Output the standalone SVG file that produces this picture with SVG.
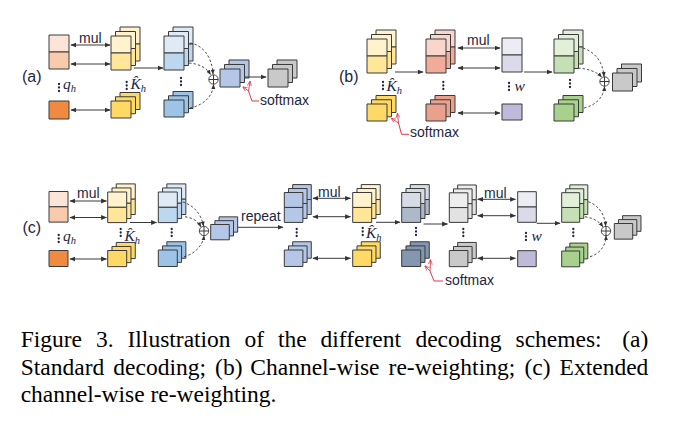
<svg xmlns="http://www.w3.org/2000/svg" xmlns:xlink="http://www.w3.org/1999/xlink" width="674" height="440" viewBox="0 0 674 440">
<style>
.bx{stroke:#3a3a3a;stroke-width:1;vector-effect:non-scaling-stroke}
.ln{stroke:#3a3a3a;stroke-width:1;fill:none}
.ar{marker-end:url(#ah)}
.bi{marker-start:url(#ah);marker-end:url(#ah)}
.ds{stroke:#3a3a3a;stroke-width:0.9;fill:none;stroke-dasharray:2.5 2;marker-end:url(#ahs)}
.rd{stroke:#e8344a;stroke-width:1;fill:none}
.rda{stroke:#e8344a;stroke-width:0.9;fill:none;marker-end:url(#ahr)}
.lb{font-family:"Liberation Sans","Open Sans",sans-serif;fill:#1e2740}
.mt{font-family:"Liberation Serif","DejaVu Serif",serif;font-style:italic;fill:#1e2740;font-size:15.5px}
.sub{font-size:10.5px}
.cap{font-family:"Liberation Serif","Times New Roman",serif;font-size:23.5px;fill:#000}
.pl{stroke:#3a3a3a;stroke-width:0.9;fill:#fff}
</style>
<defs>
<marker id="ah" viewBox="0 0 10 10" refX="9" refY="5" markerWidth="6" markerHeight="6" markerUnits="userSpaceOnUse" orient="auto-start-reverse"><path d="M0,1 L10,5 L0,9 z" fill="#333"/></marker>
<marker id="ahs" viewBox="0 0 10 10" refX="9" refY="5" markerWidth="5" markerHeight="5" markerUnits="userSpaceOnUse" orient="auto"><path d="M0,1 L10,5 L0,9 z" fill="#333"/></marker>
<marker id="ahr" viewBox="0 0 10 10" refX="9" refY="5" markerWidth="5" markerHeight="5" markerUnits="userSpaceOnUse" orient="auto"><path d="M0,1 L10,5 L0,9" fill="none" stroke="#e8344a" stroke-width="1.5"/></marker>
<g id="sb"><rect class="bx" width="20" height="17"/><rect class="bx" y="17" width="20" height="17" fill="currentColor"/></g>
<g id="ss"><use href="#sb" x="9" y="-9"/><use href="#sb" x="4.5" y="-4.5"/><use href="#sb"/></g>
<g id="ob"><rect class="bx" width="20" height="17"/></g>
<g id="os"><use href="#ob" x="9" y="-8.5"/><use href="#ob" x="4.5" y="-4.25"/><use href="#ob"/></g>
<g id="vd" fill="#1e2740"><circle cx="0" cy="0" r="1.15"/><circle cx="0" cy="3.5" r="1.15"/><circle cx="0" cy="7" r="1.15"/></g>
</defs>

<!-- ===== panel (a) ===== -->
<text class="lb" x="22" y="82" font-size="16">(a)</text>
<g id="a_q">
<use href="#sb" x="49" y="35" fill="#fce4d6" color="#f8cbad"/>
<rect class="bx" x="49" y="101" width="20" height="18" fill="#f08a40"/>
<use href="#vd" x="59" y="84"/>
<text class="mt" x="63" y="89">q<tspan class="sub" dy="3">h</tspan></text>
</g>
<g id="a_k">
<use href="#ss" x="111" y="36" fill="#fff2cc" color="#ffe699"/>
<use href="#os" x="111" y="101" fill="#ffd966"/>
<use href="#vd" x="126.7" y="82"/>
<text class="mt" x="130.5" y="89">K&#x302;<tspan class="sub" dy="3">h</tspan></text>
</g>
<g id="a_v">
<use href="#ss" x="164" y="36" fill="#deebf7" color="#bdd7ee"/>
<use href="#os" x="164" y="100" fill="#9dc3e6"/>
<use href="#vd" x="181" y="78"/>
</g>
<g id="a_sum"><circle class="pl" cx="213.5" cy="79.5" r="4.7"/><path class="ln" d="M208.8,79.5H218.2M213.5,74.8V84.2"/></g>
<g id="a_att"><use href="#os" transform="translate(220,69) scale(1,1.06)" fill="#b4c7e7"/></g>
<g id="a_out"><use href="#os" transform="translate(268,69) scale(1,1.06)" fill="#c9c9c9"/></g>
<text class="lb" x="79" y="43" font-size="14">mul</text>
<text class="lb" x="260" y="105" font-size="14">softmax</text>

<!-- ===== panel (b) ===== -->
<text class="lb" x="339" y="82" font-size="16">(b)</text>
<g id="b_k">
<use href="#ss" x="367" y="39" fill="#fff2cc" color="#ffe699"/>
<use href="#os" x="367" y="104" fill="#ffd966"/>
<use href="#vd" x="383" y="82"/>
<text class="mt" x="386.5" y="91">K&#x302;<tspan class="sub" dy="3">h</tspan></text>
</g>
<g id="b_r">
<use href="#ss" x="426" y="39" fill="#f9d6cc" color="#f0ab99"/>
<use href="#os" x="426" y="104" fill="#e9a08d"/>
<use href="#vd" x="443.3" y="82"/>
</g>
<g id="b_w">
<use href="#sb" x="502" y="38" fill="#ececf4" color="#dadaea"/>
<rect class="bx" x="502" y="104" width="20" height="16" fill="#bdbbd9"/>
<use href="#vd" x="509" y="83"/>
<text class="mt" x="514.5" y="90.5">w</text>
</g>
<g id="b_g">
<use href="#ss" x="554" y="39" fill="#e2f0d9" color="#c5e0b4"/>
<use href="#os" x="554" y="104" fill="#a9d18e"/>
<use href="#vd" x="570" y="80"/>
</g>
<g id="b_sum"><circle class="pl" cx="604.5" cy="81.5" r="4.7"/><path class="ln" d="M599.8,81.5H609.2M604.5,76.8V86.2"/></g>
<g id="b_out"><use href="#os" transform="translate(612.5,73) scale(1,1.06)" fill="#c9c9c9"/></g>
<text class="lb" x="467" y="45" font-size="14">mul</text>
<text class="lb" x="410" y="137" font-size="14">softmax</text>

<!-- ===== panel (c) ===== -->
<text class="lb" x="22.5" y="233" font-size="16">(c)</text>
<g id="c_q">
<use href="#sb" transform="translate(49,191.5) scale(0.95,0.9)" fill="#fce4d6" color="#f8cbad"/>
<rect class="bx" x="49" y="250.5" width="19" height="16" fill="#f08a40"/>
<use href="#vd" x="58.7" y="235"/>
<text class="mt" x="63" y="241">q<tspan class="sub" dy="3">h</tspan></text>
</g>
<g id="c_k">
<use href="#ss" transform="translate(107.7,192) scale(0.95,0.9)" fill="#fff2cc" color="#ffe699"/>
<use href="#os" transform="translate(107.7,250.5) scale(0.95,0.95)" fill="#ffd966"/>
<use href="#vd" x="120.7" y="229"/>
<text class="mt" x="124.5" y="241">K&#x302;<tspan class="sub" dy="3">h</tspan></text>
</g>
<g id="c_v">
<use href="#ss" transform="translate(158.3,192) scale(0.95,0.9)" fill="#deebf7" color="#bdd7ee"/>
<use href="#os" transform="translate(158.3,250) scale(0.95,0.97)" fill="#9dc3e6"/>
<use href="#vd" x="171.7" y="229"/>
</g>
<g id="c_sum1"><circle class="pl" cx="204" cy="231" r="4.7"/><path class="ln" d="M199.3,231H208.7M204,226.3V235.7"/></g>
<g id="c_att"><use href="#os" transform="translate(210.7,224.5) scale(0.93,0.9)" fill="#b4c7e7"/></g>
<g id="c_rep">
<use href="#ss" transform="translate(284.3,192.5) scale(0.93,0.88)" fill="#b4c7e7" color="#b4c7e7"/>
<use href="#os" transform="translate(284.3,250) scale(0.93,0.97)" fill="#b4c7e7"/>
<use href="#vd" x="296.7" y="229"/>
</g>
<g id="c_k2">
<use href="#ss" transform="translate(352.7,192.5) scale(0.95,0.88)" fill="#fff2cc" color="#ffe699"/>
<use href="#os" transform="translate(352.7,250) scale(0.95,0.97)" fill="#ffd966"/>
<use href="#vd" x="362.7" y="228"/>
<text class="mt" x="366" y="238">K&#x302;<tspan class="sub" dy="3">h</tspan></text>
</g>
<g id="c_s">
<use href="#ss" transform="translate(401.7,192.5) scale(0.95,0.88)" fill="#d6dce5" color="#adb9ca"/>
<use href="#os" transform="translate(401.7,250) scale(0.95,0.97)" fill="#8497b0"/>
<use href="#vd" x="416" y="228"/>
</g>
<g id="c_y">
<use href="#ss" transform="translate(449.3,192.8) scale(0.93,0.87)" fill="#ededed" color="#e2e2e2"/>
<use href="#os" transform="translate(449.3,250.5) scale(0.93,0.95)" fill="#c9c9c9"/>
<use href="#vd" x="463.3" y="229"/>
</g>
<g id="c_w">
<use href="#sb" transform="translate(517.7,191.7) scale(0.93,0.9)" fill="#ececf4" color="#dadaea"/>
<rect class="bx" x="517.7" y="250.7" width="18.5" height="16" fill="#bdbbd9"/>
<use href="#vd" x="526" y="233"/>
<text class="mt" x="531.5" y="241">w</text>
</g>
<g id="c_g">
<use href="#ss" transform="translate(561.7,192.7) scale(0.9,0.87)" fill="#e2f0d9" color="#c5e0b4"/>
<use href="#os" transform="translate(561.7,251) scale(0.9,0.93)" fill="#a9d18e"/>
<use href="#vd" x="573.3" y="229"/>
</g>
<g id="c_sum2"><circle class="pl" cx="606" cy="231" r="4.7"/><path class="ln" d="M601.3,231H610.7M606,226.3V235.7"/></g>
<g id="c_out"><use href="#os" transform="translate(614.3,223.5) scale(0.92,0.92)" fill="#c9c9c9"/></g>
<text class="lb" x="77" y="198" font-size="14">mul</text>
<text class="lb" x="241" y="221" font-size="14">repeat</text>
<text class="lb" x="318" y="197" font-size="14">mul</text>
<text class="lb" x="484" y="198" font-size="14">mul</text>
<text class="lb" x="445" y="285" font-size="14">softmax</text>

<!-- ===== connectors ===== -->
<g id="connectors">
<line class="ln bi" x1="71" y1="45" x2="110" y2="45"/>
<line class="ln bi" x1="71" y1="64" x2="110" y2="64"/>
<line class="ln bi" x1="71" y1="110" x2="110" y2="110"/>
<line class="ln ar" x1="134" y1="68" x2="163" y2="68"/>
<path class="ds" d="M190,43 C203,45 212,57 213,74"/>
<path class="ds" d="M189,63 C199,64 206,67 210.5,74.5"/>
<path class="ds" d="M190,108 C204,105 213,96 213.5,84.5"/>
<line class="ln ar" x1="245" y1="77" x2="266" y2="77"/>
<polyline class="rd" points="259,101 252,101 248.5,91"/>
<line class="rda" x1="248.5" y1="91" x2="243" y2="87"/>
<line class="rda" x1="248.5" y1="91" x2="250" y2="81.5"/>

<line class="ln ar" x1="395" y1="72" x2="423" y2="72"/>
<line class="ln bi" x1="458" y1="48" x2="500" y2="48"/>
<line class="ln bi" x1="458" y1="68" x2="500" y2="68"/>
<line class="ln bi" x1="458" y1="113" x2="500" y2="113"/>
<line class="ln ar" x1="524" y1="72" x2="552" y2="72"/>
<path class="ds" d="M583,48 C595,52 603,62 604,76.5"/>
<path class="ds" d="M578,68 C589,69 597,72 601.5,77"/>
<path class="ds" d="M584,108 C597,105 604,96 604.5,86.5"/>
<polyline class="rd" points="409,134.3 401.5,134.3 398.5,123"/>
<line class="rda" x1="398.5" y1="123" x2="391.5" y2="118.5"/>
<line class="rda" x1="398.5" y1="123" x2="397.5" y2="113.5"/>

<line class="ln bi" x1="70" y1="201" x2="106.5" y2="201"/>
<line class="ln bi" x1="70" y1="217.5" x2="106.5" y2="217.5"/>
<line class="ln bi" x1="70" y1="259" x2="106.5" y2="259"/>
<line class="ln ar" x1="130" y1="222.5" x2="156.5" y2="222.5"/>
<path class="ds" d="M182.7,202 C193,205 201,213 203.5,226"/>
<path class="ds" d="M185,216.7 C193,218 198,221 200.8,226.8"/>
<path class="ds" d="M184,256.7 C195,254 203,245 204,235.8"/>
<line class="ln ar" x1="238" y1="227.3" x2="283" y2="227.3"/>
<line class="ln bi" x1="313" y1="198.3" x2="350.5" y2="198.3"/>
<line class="ln bi" x1="313" y1="216.7" x2="350.5" y2="216.7"/>
<line class="ln bi" x1="313" y1="258.3" x2="350.5" y2="258.3"/>
<line class="ln ar" x1="376" y1="222.3" x2="400" y2="222.3"/>
<line class="ln ar" x1="423.5" y1="224" x2="447.5" y2="224"/>
<line class="ln bi" x1="477.7" y1="199.3" x2="515.5" y2="199.3"/>
<line class="ln bi" x1="477.7" y1="215.7" x2="515.5" y2="215.7"/>
<line class="ln bi" x1="477.7" y1="258.3" x2="515.5" y2="258.3"/>
<line class="ln ar" x1="536.7" y1="223.3" x2="560" y2="223.3"/>
<path class="ds" d="M588.3,201.7 C598,205 605,214 605.6,226"/>
<path class="ds" d="M585,216.7 C593,218 599,221 602.8,226.8"/>
<path class="ds" d="M590,256.7 C600,254 606,245 606,235.8"/>
<polyline class="rd" points="443,281 434,281 430,271"/>
<line class="rda" x1="430" y1="271" x2="425" y2="266"/>
<line class="rda" x1="430" y1="271" x2="430.5" y2="260"/>
</g>

<!-- ===== caption ===== -->
<text class="cap" y="347"><tspan x="20.7">Figure</tspan><tspan x="96">3.</tspan><tspan x="127.5">Illustration</tspan><tspan x="244.5">of</tspan><tspan x="278">the</tspan><tspan x="320.6">different</tspan><tspan x="415.4">decoding</tspan><tspan x="515.5">schemes:</tspan><tspan x="622.2">(a)</tspan></text>
<text class="cap" y="375"><tspan x="20.7">Standard</tspan><tspan x="113.3">decoding;</tspan><tspan x="215.1">(b)</tspan><tspan x="250.3">Channel-wise</tspan><tspan x="388.6">re-weighting;</tspan><tspan x="524.4">(c)</tspan><tspan x="559.6">Extended</tspan></text>
<text class="cap" x="20.7" y="402">channel-wise re-weighting.</text>
</svg>
